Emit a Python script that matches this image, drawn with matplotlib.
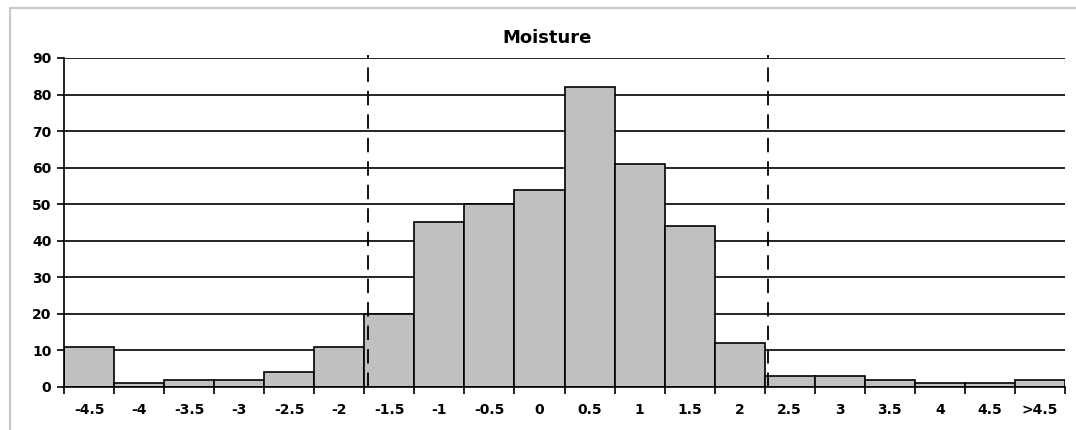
import matplotlib
matplotlib.use("Agg")
import matplotlib.pyplot as plt
from matplotlib.patches import Rectangle

# Datos del histograma (clases y frecuencias)
labels = ["-4.5", "-4", "-3.5", "-3", "-2.5", "-2", "-1.5", "-1", "-0.5", "0",
          "0.5", "1", "1.5", "2", "2.5", "3", "3.5", "4", "4.5", ">4.5"]
counts = [11, 1, 2, 2, 4, 11, 20, 45, 50, 54, 82, 61, 44, 12, 3, 3, 2, 1, 1, 2]
limits = [-1.715, 2.285]  # límites marcados con línea discontinua
bin_start = -4.5
bin_step = 0.5

plt.rcParams['font.family'] = ['DejaVu Sans']

fig = plt.figure(figsize=(10.76, 4.30), dpi=100)
ax = fig.add_axes([64 / 1076, 43 / 430, 1001 / 1076, 329 / 430])

x = list(range(len(labels)))
ax.bar(x, counts, width=1.0, color="#c0c0c0", edgecolor="black", linewidth=1.2, zorder=2)

# Líneas discontinuas en los límites
for v in limits:
    ax.axvline((v - bin_start) / bin_step, color="black", lw=1.3,
               ls=(0, (8, 5)), zorder=3, ymax=1.01, clip_on=False)

ax.set_xlim(-0.5, len(labels) - 0.5)
ax.set_ylim(0, 90)
ax.set_yticks(range(0, 91, 10))
ax.yaxis.grid(True, color="black", lw=1.2)
ax.set_axisbelow(True)

ax.set_xticks(x)
ax.set_xticklabels(labels, fontweight="bold", fontsize=10)
ax.set_xticks([i - 0.5 for i in range(len(labels) + 1)], minor=True)
ax.tick_params(axis="x", which="major", length=0, pad=11.5)
ax.tick_params(axis="x", which="minor", length=5, width=1.2, color="black")
ax.tick_params(axis="y", length=5, width=1.2, pad=4, labelsize=10)
for t in ax.get_yticklabels():
    t.set_fontweight("bold")

for s in ["top", "right"]:
    ax.spines[s].set_visible(False)
ax.spines["left"].set_linewidth(1.2)
ax.spines["bottom"].set_linewidth(1.2)

fig.text(547 / 1076, 1 - 38 / 430, "Moisture", ha="center", va="center",
         fontsize=13, fontweight="bold")

# Marco exterior gris
fig.add_artist(Rectangle((10 / 1076, -0.1), 1.1, 1 - 8 / 430 + 0.1,
                         transform=fig.transFigure, fill=False,
                         edgecolor="#c8c8c8", lw=1.5))

fig.savefig("out.png", dpi=100)
